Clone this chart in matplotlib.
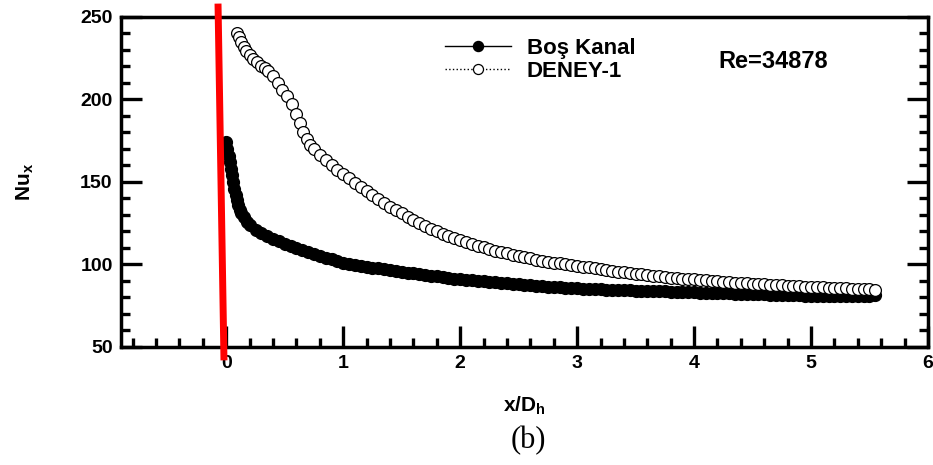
import matplotlib
matplotlib.use('Agg')
import matplotlib.pyplot as plt

plt.rcParams['font.family'] = 'Liberation Sans'
plt.rcParams['font.weight'] = 'bold'
plt.rcParams['mathtext.fontset'] = 'custom'
plt.rcParams['mathtext.rm'] = 'Liberation Sans:bold'
plt.rcParams['mathtext.it'] = 'Liberation Sans:bold'
plt.rcParams['mathtext.bf'] = 'Liberation Sans:bold'

# Bos Kanal (filled markers)
x_bos = [0.00, 0.01, 0.02, 0.03, 0.04, 0.05, 0.06, 0.07, 0.08, 0.09, 0.10,
         0.115, 0.13, 0.15, 0.175, 0.20, 0.25, 0.30, 0.35, 0.40, 0.45, 0.50,
         0.55, 0.60, 0.65,
         0.70, 0.75, 0.80, 0.85, 0.90, 0.95, 1.00, 1.05, 1.10, 1.15, 1.20,
         1.25, 1.30, 1.35, 1.40, 1.45, 1.50, 1.55, 1.60, 1.65, 1.70, 1.75,
         1.80, 1.85, 1.90, 1.95, 2.00, 2.05, 2.10, 2.15, 2.20, 2.25, 2.30,
         2.35, 2.40, 2.45, 2.50, 2.55, 2.60, 2.65, 2.70, 2.75, 2.80, 2.85,
         2.90, 2.95, 3.00, 3.05, 3.10, 3.15, 3.20, 3.25, 3.30, 3.35, 3.40,
         3.45, 3.50, 3.55, 3.60, 3.65, 3.70, 3.75, 3.80, 3.85, 3.90, 3.95,
         4.00, 4.05, 4.10, 4.15, 4.20, 4.25, 4.30, 4.35, 4.40, 4.45, 4.50,
         4.55, 4.60, 4.65, 4.70, 4.75, 4.80, 4.85, 4.90, 4.95, 5.00, 5.05,
         5.10, 5.15, 5.20, 5.25, 5.30, 5.35, 5.40, 5.45, 5.50, 5.55]
nu_bos = [174, 170, 166, 162, 158, 154, 150, 146, 142, 139, 136,
          133, 131, 128.5, 126, 124, 121, 119, 117, 115.5, 114, 112.5,
          111.2, 110, 108.8,
          107.6, 106.4, 105.3, 104.2, 103.1, 102, 101, 100.4, 99.8, 99.2, 98.6,
          98.1, 97.6, 97.1, 96.6, 96.1, 95.6, 95.1, 94.6, 94.2, 93.7, 93.3,
          92.8, 92.4, 91.9, 91.5, 91.1, 90.8, 90.4, 90.1, 89.7, 89.4, 89.1,
          88.8, 88.5, 88.2, 87.9, 87.6, 87.3, 87.1, 86.8, 86.6, 86.3, 86.1,
          85.9, 85.7, 85.5, 85.4, 85.2, 85.1, 84.9, 84.8, 84.7, 84.5, 84.4,
          84.3, 84.2, 84.1, 84.0, 83.9, 83.8, 83.7, 83.6, 83.5, 83.3, 83.2,
          83.1, 83.0, 82.9, 82.8, 82.7, 82.6, 82.5, 82.4, 82.3, 82.2, 82.1,
          82.0, 81.9, 81.8, 81.7, 81.6, 81.5, 81.4, 81.3, 81.2, 81.1, 81.1,
          81.0, 81.0, 81.0, 81.0, 81.0, 81.0, 81.1, 81.1, 81.2, 81.3]

# DENEY-1 (open markers)
x_deney = [0.09, 0.11, 0.13, 0.15, 0.17, 0.20, 0.23, 0.26, 0.30, 0.33,
           0.36, 0.40, 0.44, 0.48, 0.52, 0.56, 0.60, 0.63, 0.66, 0.69,
           0.72, 0.75, 0.80, 0.85, 0.90, 0.95, 1.00, 1.05, 1.10, 1.15,
           1.20, 1.25, 1.30, 1.35, 1.40, 1.45, 1.50, 1.55, 1.60, 1.65,
           1.70, 1.75, 1.80, 1.85, 1.90, 1.95, 2.00, 2.05, 2.10, 2.15,
           2.20, 2.25, 2.30, 2.35, 2.40, 2.45, 2.50, 2.55, 2.60, 2.65,
           2.70, 2.75, 2.80, 2.85, 2.90, 2.95, 3.00, 3.05, 3.10, 3.15,
           3.20, 3.25, 3.30, 3.35, 3.40, 3.45, 3.50, 3.55, 3.60, 3.65,
           3.70, 3.75, 3.80, 3.85, 3.90, 3.95, 4.00, 4.05, 4.10, 4.15,
           4.20, 4.25, 4.30, 4.35, 4.40, 4.45, 4.50, 4.55, 4.60, 4.65,
           4.70, 4.75, 4.80, 4.85, 4.90, 4.95, 5.00, 5.05, 5.10, 5.15,
           5.20, 5.25, 5.30, 5.35, 5.40, 5.45, 5.50, 5.55]
nu_deney = [240.5, 238, 235, 232, 229.5, 227, 224.5, 222.5, 220.5, 219,
            217.5, 214, 210, 206, 202, 197, 191, 186, 180.5, 176,
            172.5, 170, 166.5, 163.5, 160.5, 157.5, 155, 152.3, 149.5, 147,
            144.5, 142, 139.5, 137.3, 135, 133, 131, 129, 127, 125.2,
            123.5, 121.8, 120.2, 118.7, 117.3, 116, 114.8, 113.6, 112.5, 111.4,
            110.3, 109.3, 108.4, 107.5, 106.7, 105.9, 105.1, 104.4, 103.7, 103,
            102.4, 101.8, 101.2, 100.6, 100.1, 99.6, 99.2, 98.7, 98.2, 97.7,
            97.2, 96.7, 96.2, 95.7, 95.2, 94.8, 94.4, 94.0, 93.6, 93.2,
            92.8, 92.4, 92.1, 91.8, 91.5, 91.2, 90.9, 90.6, 90.3, 90.0,
            89.8, 89.5, 89.3, 89.0, 88.8, 88.6, 88.4, 88.2, 88.0, 87.8,
            87.6, 87.4, 87.2, 87.0, 86.8, 86.6, 86.4, 86.2, 86.1, 85.9,
            85.8, 85.6, 85.5, 85.3, 85.2, 85.0, 84.9, 84.8]

# red marker line at the channel inlet
red_x = [-0.07, -0.02]
red_y = [256, 44]

fig = plt.figure(figsize=(9.33, 4.65), dpi=100)
ax = fig.add_axes([0.1297, 0.2538, 0.8649, 0.7097])

ax.plot(x_bos, nu_bos, '-', color='black', lw=1, marker='o', ms=8.5,
        mfc='black', mec='black', label='Boş Kanal')
ax.plot(x_deney, nu_deney, ':', color='black', lw=1, marker='o', ms=8.5,
        mfc='white', mec='black', mew=0.9, label='DENEY-1')

ax.plot(red_x, red_y, color='red', lw=5, clip_on=False, zorder=5)

ax.set_xlim(-0.9, 6)
ax.set_ylim(50, 250)
ax.set_xticks([0, 1, 2, 3, 4, 5, 6])
ax.set_xticks([-0.8, -0.6, -0.4, -0.2, 0.2, 0.4, 0.6, 0.8, 1.2, 1.4, 1.6, 1.8,
               2.2, 2.4, 2.6, 2.8, 3.2, 3.4, 3.6, 3.8, 4.2, 4.4, 4.6, 4.8,
               5.2, 5.4, 5.6, 5.8], minor=True)
ax.set_yticks([50, 100, 150, 200, 250])
ax.set_yticks([60, 70, 80, 90, 110, 120, 130, 140, 160, 170, 180, 190,
               210, 220, 230, 240], minor=True)
ax.tick_params(which='both', direction='in', right=True, top=False,
               labelsize=14, width=2.4, pad=6)
ax.tick_params(which='major', length=15)
ax.tick_params(which='minor', length=6.5)
for s in ax.spines.values():
    s.set_linewidth(2.5)

ax.set_xlabel(r'x/D$_\mathrm{h}$', fontsize=15, fontweight='bold', labelpad=16)
ax.set_ylabel(r'Nu$_\mathrm{x}$', fontsize=15, fontweight='bold', labelpad=32)

ax.legend(loc='upper left', bbox_to_anchor=(0.401, 0.937), frameon=False,
          fontsize=16, handlelength=3.0, handletextpad=0.7, labelspacing=0.1,
          borderpad=0, borderaxespad=0, numpoints=1, markerscale=0.85)
ax.text(0.740, 0.866, 'Re=34878', transform=ax.transAxes, fontsize=17,
        fontweight='bold', va='center', ha='left')

fig.text(0.566, 0.052, '(b)', fontsize=22, family='Liberation Serif',
         fontweight='normal', ha='center', va='center')

fig.savefig('out.png', dpi=100)
